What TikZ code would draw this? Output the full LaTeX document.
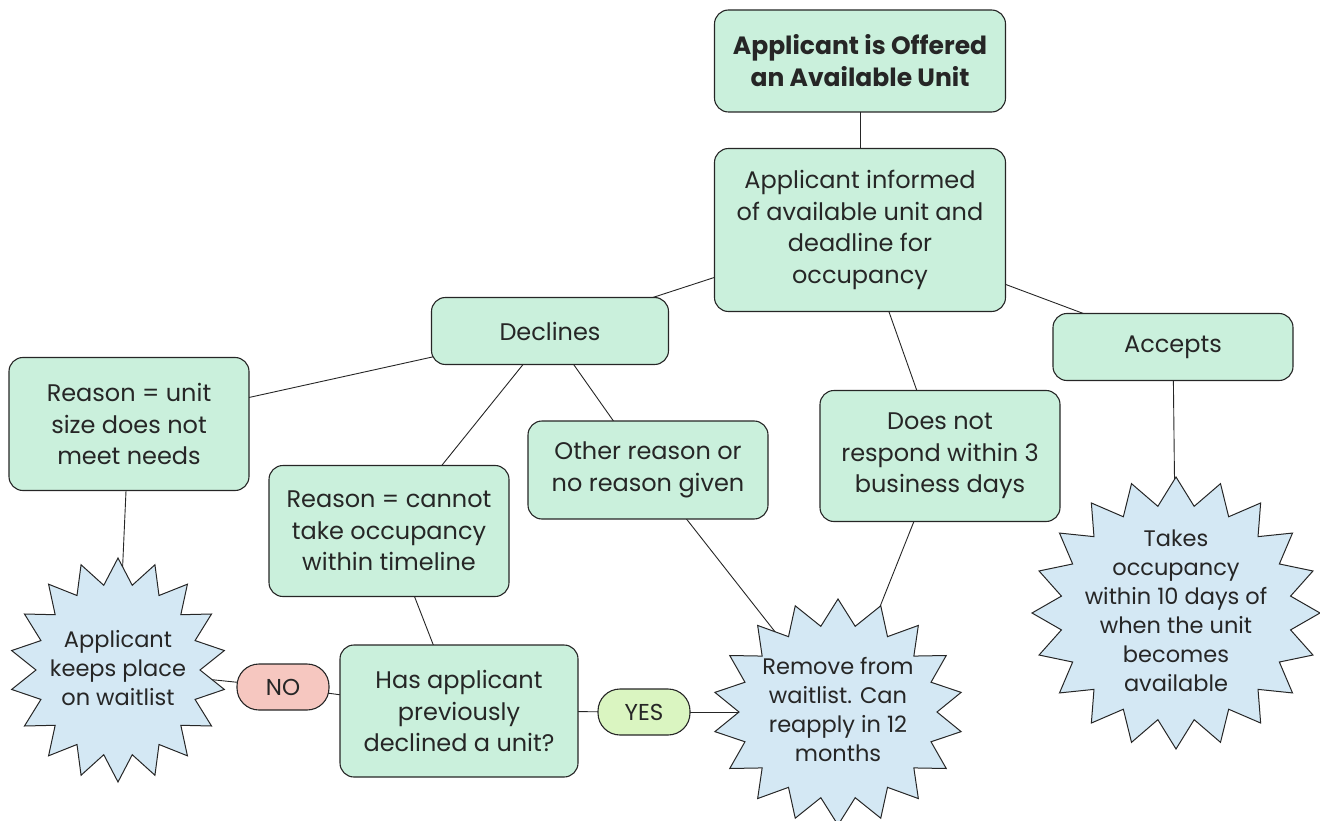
\documentclass[tikz,border=0pt]{standalone}
\usepackage{fontspec}
\setmainfont{Poppins}
\usetikzlibrary{shapes.symbols,backgrounds}
\definecolor{mint}{RGB}{202,240,220}
\definecolor{skyb}{RGB}{212,232,244}
\definecolor{nored}{RGB}{246,199,192}
\definecolor{yesgr}{RGB}{218,245,193}
\definecolor{ink}{RGB}{38,38,38}
\newcommand{\bursttext}[1]{\smash{\makebox[0pt]{\raisebox{-0.25em}{\begin{tabular}{@{}c@{}}#1\end{tabular}}}}}
\begin{document}
\begin{tikzpicture}[x=1pt,y=-1pt,
  box/.style={draw=ink, line width=1.1pt, fill=mint, rounded corners=14pt, align=center,
    inner sep=0pt, text=ink, font=\fontsize{24}{31.5}\selectfont},
  pill/.style={draw=ink, line width=1.1pt, rounded corners=22pt, align=center, inner sep=0pt,
    text=ink, font=\fontsize{23}{26}\selectfont, minimum width=92pt, minimum height=46pt},
  burst/.style={starburst, draw=ink, line width=1pt, fill=skyb, text=ink,
    random starburst=0, inner sep=0pt, font=\fontsize{22.5}{29}\selectfont},
  link/.style={draw=ink, line width=0.9pt}]
\useasboundingbox (0,0) rectangle (1320,821);
\node[box, minimum width=291pt, minimum height=102pt, font=\fontsize{25}{32}\selectfont\bfseries] (top) at (860,61) {Applicant is Offered\\an Available Unit};
\node[box, minimum width=291pt, minimum height=163pt] (inf) at (860,230) {Applicant informed\\of available unit and\\deadline for\\occupancy};
\node[box, minimum width=237pt, minimum height=67pt] (dec) at (550,331) {Declines};
\node[box, minimum width=240pt, minimum height=67pt] (acc) at (1173,347) {Accepts};
\node[box, minimum width=240pt, minimum height=133pt] (rsz) at (129,424) {Reason = unit\\size does not\\meet needs};
\node[box, minimum width=240pt, minimum height=131pt] (tml) at (389,531) {Reason = cannot\\take occupancy\\within timeline};
\node[box, minimum width=240pt, minimum height=98pt] (oth) at (648,470) {Other reason or\\no reason given};
\node[box, minimum width=240pt, minimum height=131pt] (dnr) at (940,456) {Does not\\respond within 3\\business days};
\node[box, minimum width=238pt, minimum height=132pt] (has) at (459,711) {Has applicant\\previously\\declined a unit?};
\node[pill, fill=nored] (no) at (283,687) {NO};
\node[pill, fill=yesgr] (yes) at (644,712) {YES};
\node[burst, starburst points=18, starburst point height=26pt, minimum width=216pt, minimum height=224pt] (keep) at (118,670) {\bursttext{Applicant\\keeps place\\on waitlist}};
\node[burst, starburst points=18, starburst point height=26pt, minimum width=250pt, minimum height=226pt] (rem) at (838,712) {\bursttext{Remove from\\waitlist. Can\\reapply in 12\\months}};
\node[burst, starburst points=20, starburst point height=28pt, minimum width=288pt, minimum height=272pt] (tak) at (1176,613) {\bursttext{Takes\\occupancy\\within 10 days of\\when the unit\\becomes\\available}};
\begin{pgfonlayer}{background}
\draw[link] (top.center) -- (inf.center);
\draw[link] (inf.center) -- (dec.center);
\draw[link] (inf.center) -- (acc.center);
\draw[link] (inf.center) -- (dnr.center);
\draw[link] (dec.center) -- (rsz.center);
\draw[link] (dec.center) -- (tml.center);
\draw[link] (dec.center) -- (oth.center);
\draw[link] (rsz.center) -- (keep.center);
\draw[link] (tml.center) -- (has.center);
\draw[link] (has.center) -- (no.center);
\draw[link] (no.center) -- (keep.center);
\draw[link] (has.center) -- (yes.center);
\draw[link] (yes.center) -- (rem.center);
\draw[link] (oth.center) -- (rem.center);
\draw[link] (dnr.center) -- (rem.center);
\draw[link] (acc.center) -- (tak.center);
\end{pgfonlayer}
\end{tikzpicture}
\end{document}
